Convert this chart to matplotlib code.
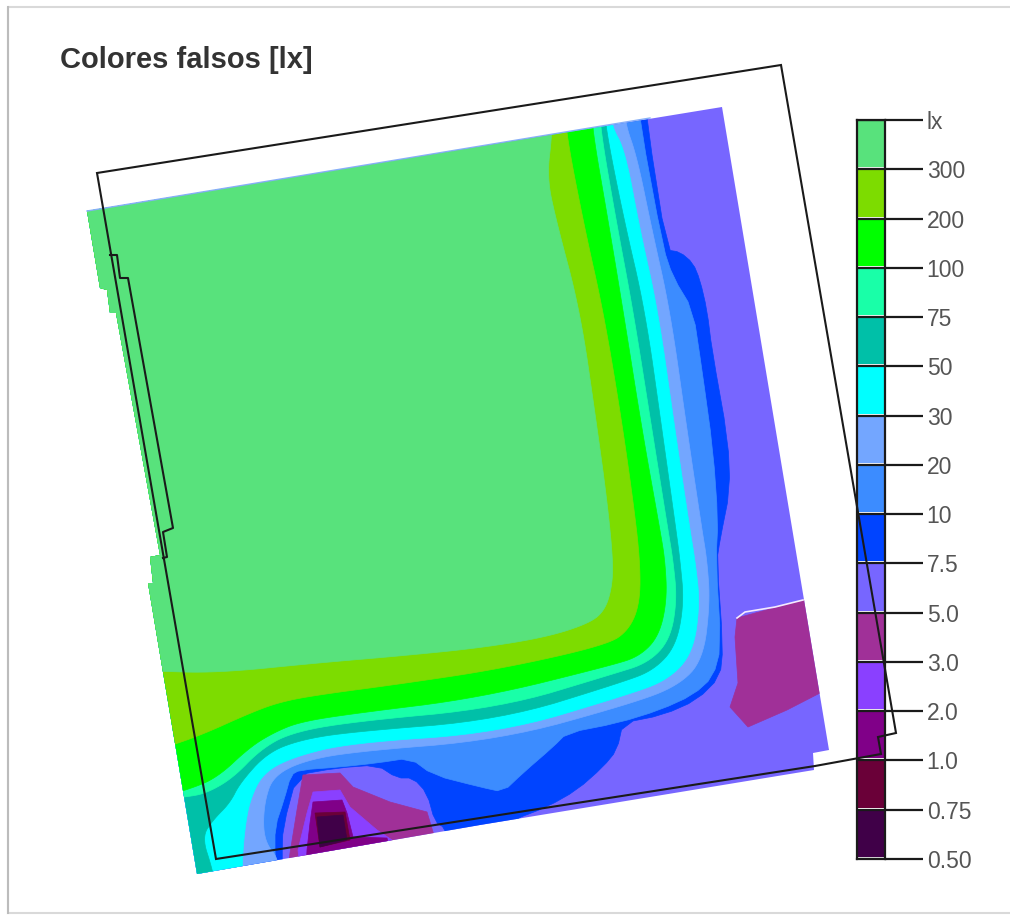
#!/usr/bin/env python3
"""False colour illuminance plot with its legend bar, outlines read off the picture in pixels."""

import matplotlib
matplotlib.use('Agg')
import matplotlib.pyplot as plt
from matplotlib.patches import Polygon, Rectangle

plt.rcParams['font.family'] = ['Liberation Sans', 'DejaVu Sans']

TITLE = 'Colores falsos [lx]'
TICK_LABELS = ['0.50', '0.75', '1.0', '2.0', '3.0', '5.0', '7.5', '10', '20', '30',
               '50', '75', '100', '200', '300', 'lx']
BAND_COLORS = ['#400048', '#6a0038', '#800088', '#8a40ff', '#a03098', '#7766ff',
               '#0044ff', '#3c8cff', '#73a6ff', '#00ffff', '#00c0a8', '#19ffa8',
               '#00ff00', '#7ddc00', '#58e27c']

# room floor, clips every band
FLOOR = [(87, 211), (722, 107), (829, 750), (813, 753), (814, 770), (480, 825), (197, 874),
         (148, 583), (153, 583), (150, 557), (160, 555), (116, 313), (110, 313),
         (107, 290), (100, 288)]

# contours from top edge round the corner to the left edge, lit side is up and left
C_300 = [(552, 100), (552, 135), (547, 177), (556, 220), (580, 310), (596, 420), (607, 500),
         (613, 560), (612, 587), (605, 610), (590, 623), (547, 637), (480, 648),
         (400, 656), (317, 663), (217, 673), (150, 671)]
C_200 = [(565, 100), (566, 133), (585, 230), (603, 310), (620, 410), (633, 500), (640, 560),
         (640, 603), (629, 630), (607, 645), (500, 669), (400, 684), (317, 695),
         (280, 702), (250, 713), (197, 737), (150, 752)]
C_100 = [(592, 100), (592, 128), (608, 220), (623, 310), (642, 430), (660, 530), (665, 560),
         (667, 600), (659, 636), (640, 656), (613, 665), (480, 698), (350, 714),
         (300, 722), (275, 732), (250, 747), (217, 778), (187, 790), (150, 800)]
C_75 = [(600, 100), (600, 127), (616, 220), (633, 310), (652, 430), (668, 530), (673, 560),
        (677, 600), (670, 640), (648, 663), (613, 674), (500, 708), (350, 722),
        (290, 733), (260, 750), (233, 778), (207, 793), (187, 797), (150, 800)]
C_50 = [(605, 100), (605, 125), (624, 220), (645, 310), (662, 430), (676, 530), (680, 560),
        (684, 603), (676, 646), (654, 670), (623, 682), (500, 720), (350, 732),
        (300, 740), (267, 753), (240, 783), (230, 803), (213, 820), (202, 837),
        (212, 868), (215, 885), (150, 885)]
C_30 = [(611, 100), (611, 125), (625, 150), (640, 230), (658, 310), (675, 430), (690, 530), (695, 560),
        (700, 603), (693, 653), (668, 680), (627, 695), (500, 733), (350, 743),
        (293, 757), (263, 773), (250, 800), (245, 827), (242, 863), (243, 885), (150, 885)]
C_20 = [(625, 100), (625, 123), (637, 157), (652, 230), (670, 310), (687, 430), (702, 530), (707, 560),
        (710, 603), (703, 660), (678, 686), (630, 704), (500, 740), (350, 752),
        (300, 762), (273, 777), (265, 800), (263, 827), (267, 845), (278, 858), (280, 885), (150, 885)]
C_10 = [(640, 100), (640, 123), (663, 247), (673, 277), (693, 310), (702, 370), (713, 450),
        (718, 520), (716, 560), (721, 647), (713, 677), (693, 695), (660, 710), (618, 723),
        (567, 733), (553, 747), (523, 773), (503, 792), (480, 787), (433, 775), (410, 758),
        (377, 763), (340, 767), (300, 770), (291, 775), (284, 800), (275, 827), (275, 858),
        (277, 885), (150, 885)]
C_75_LOW = [(647, 100), (647, 123), (667, 250), (680, 252), (693, 263), (700, 280), (707, 310),
            (712, 350), (728, 440), (730, 490), (720, 540), (717, 560), (723, 647), (720, 677),
            (697, 700), (663, 715), (623, 723), (617, 750), (603, 767), (577, 790), (547, 807),
            (513, 820), (480, 845), (448, 845), (445, 828), (435, 822), (427, 793), (413, 778),
            (397, 778), (377, 765), (337, 768), (297, 775), (283, 827), (282, 857), (283, 885),
            (150, 885)]

# dim patches, painted over the floor
PATCH_RIGHT = [(737, 618), (803, 600), (830, 600), (830, 690), (820, 693), (787, 710), (748, 727),
               (730, 707), (738, 683), (735, 637)]
SPOT_3 = [(303, 775), (340, 773), (353, 787), (390, 802), (427, 812), (433, 832), (436, 845),
          (288, 870), (290, 853), (297, 810)]
SPOT_2 = [(313, 792), (340, 790), (350, 807), (377, 830), (392, 840), (300, 870), (298, 850),
          (307, 813)]
SPOT_1 = [(313, 802), (342, 800), (347, 813), (353, 837), (387, 838), (390, 850), (306, 870),
          (307, 850), (310, 823)]
SPOT_075 = [(315, 813), (345, 812), (350, 840), (320, 847)]
SPOT_050 = [(317, 817), (343, 815), (347, 840), (320, 847)]

# black room outline and the window niche
ROOM = [(97, 173), (781, 65), (896, 733), (878, 737), (881, 754), (815, 766), (216, 859)]
NICHE = [(110, 255), (117, 255), (120, 278), (128, 278), (173, 528), (163, 532), (167, 557),
         (163, 558)]
PATCH_EDGE = [(737, 618), (745, 612), (775, 607), (803, 600)]


def round_corners(points, passes):
    """Corner cutting, the contours in the picture have no hard bends."""
    pts = list(points)
    for _ in range(passes):
        cut = [pts[0]]
        for (x0, y0), (x1, y1) in zip(pts[:-1], pts[1:]):
            cut.append((0.75 * x0 + 0.25 * x1, 0.75 * y0 + 0.25 * y1))
            cut.append((0.25 * x0 + 0.75 * x1, 0.25 * y0 + 0.75 * y1))
        cut.append(pts[-1])
        pts = cut
    return pts


def add_band(ax, points, color, clip, closing=None, passes=0):
    """Fill one contour, closed round the outside of the floor."""
    pts = round_corners(points, passes)
    if closing:
        pts += closing
    band = Polygon(pts, closed=True, facecolor=color, edgecolor=color, linewidth=0.5, zorder=2)
    ax.add_patch(band)
    band.set_clip_path(clip)


def main():
    fig = plt.figure(figsize=(10.10, 9.18), dpi=100)
    ax = fig.add_axes([0, 0, 1, 1], zorder=2)
    ax.set_xlim(0, 1010)
    ax.set_ylim(918, 0)
    ax.axis('off')

    # page frame, open to the right
    ax.add_patch(Rectangle((8, 7), 1030, 906, fill=False, edgecolor='#d9d9d9',
                           linewidth=1.5, zorder=0))
    ax.plot([8, 8], [7, 913], color='#bcbcbc', linewidth=1.5, zorder=0)
    ax.text(60, 60, TITLE, fontsize=21, fontweight='bold', color='#333333', va='center')

    floor = Polygon(FLOOR, closed=True, facecolor=BAND_COLORS[5], edgecolor='none', zorder=1)
    ax.add_patch(floor)

    add_band(ax, PATCH_RIGHT, BAND_COLORS[4], floor)

    around = [(60, 885), (60, 60), (700, 60)]
    contours = [C_75_LOW, C_10, C_20, C_30, C_50, C_75, C_100, C_200, C_300]
    for i, contour in enumerate(contours):
        # the two dim contours keep some of their jagged look
        passes = 1 if i < 2 else 3
        add_band(ax, contour, BAND_COLORS[6 + i], floor, closing=around, passes=passes)

    add_band(ax, SPOT_3, BAND_COLORS[4], floor)
    add_band(ax, SPOT_2, BAND_COLORS[3], floor)
    add_band(ax, SPOT_1, BAND_COLORS[2], floor)
    add_band(ax, SPOT_075, BAND_COLORS[1], floor)
    add_band(ax, SPOT_050, BAND_COLORS[0], floor)

    # pale seam on top of the dim patch and blue seam along the top wall
    ax.plot(*zip(*PATCH_EDGE), color='#f4eaff', linewidth=1.2, zorder=3)
    ax.plot(*zip(*[FLOOR[0], (650, 118)]), color='#86aef8', linewidth=1.0, zorder=3)

    ax.add_patch(Polygon(ROOM, closed=True, fill=False, edgecolor='#1a1a1a', linewidth=1.5, zorder=6))
    ax.plot(*zip(*NICHE), color='#1a1a1a', linewidth=1.5, zorder=6)

    # legend bar, sits under the room outline
    bar = fig.add_axes([857 / 1010, 1 - 859 / 918, 28 / 1010, 739 / 918], zorder=1)
    n = len(BAND_COLORS)
    bar.set_xlim(0, 1)
    bar.set_ylim(0, n)
    bar.bar([0.5] * n, [0.96] * n, bottom=[i + 0.04 for i in range(n)], width=1.0,
            color=BAND_COLORS)
    bar.hlines(range(n + 1), 0, 1, color='#1a1a1a', linewidth=1.6)
    bar.set_xticks([])
    bar.set_yticks(range(n + 1))
    bar.set_yticklabels(TICK_LABELS)
    bar.yaxis.tick_right()
    bar.tick_params(axis='y', length=27, width=1.6, color='#1a1a1a', labelsize=16.5,
                    labelcolor='#555555', pad=3)
    for side in bar.spines.values():
        side.set_linewidth(1.6)
        side.set_color('#1a1a1a')

    fig.savefig('out.png', dpi=100)


if __name__ == "__main__":
    main()
